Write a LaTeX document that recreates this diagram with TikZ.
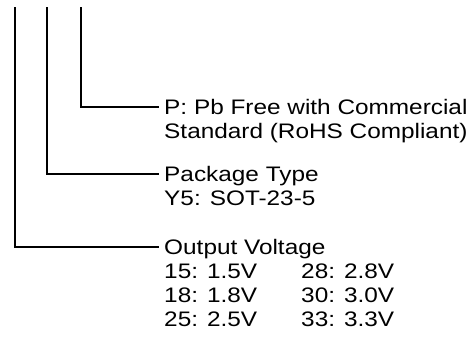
\documentclass[tikz,border=0pt]{standalone}
\usepackage{fontspec}
\setmainfont{Liberation Sans}
\usetikzlibrary{calc}
\tikzstyle{lead} = [line width=1.6pt, line cap=rect]
\tikzstyle{label} = [anchor=base west, inner sep=0pt, xscale=1.16,
  font=\fontsize{21}{24}\selectfont]

\begin{document}
\begin{tikzpicture}[x=1pt, y=-1pt]
  \useasboundingbox (0,0) rectangle (473,338);

  % tops of the three leads
  \coordinate (voltTop) at (15,8);
  \coordinate (pkgTop) at (47,8);
  \coordinate (rohsTop) at (81,8);

  \node [label] (rohs) at (164,114) {P: Pb Free with Commercial};
  \node [label] (rohsStd) at (164,138) {Standard (RoHS Compliant)};
  \node [label] (pkg) at (164,181) {Package Type};
  \node [label] (pkgSot) at (164,205) {Y5: SOT-23-5};
  \node [label] (volt) at (164,254) {Output Voltage};
  \foreach \a/\b [count=\i] in {15: 1.5V/28: 2.8V, 18: 1.8V/30: 3.0V, 25: 2.5V/33: 3.3V} {
    \node [label] (voltA\i) at (164,254+24*\i) {\a};
    \node [label] (voltB\i) at (301,254+24*\i) {\b};
  }

  \coordinate (rohsEnd) at ($(rohs.base west)+(-6,-7)$);
  \coordinate (pkgEnd) at ($(pkg.base west)+(-6,-7)$);
  \coordinate (voltEnd) at ($(volt.base west)+(-6,-7)$);

  \draw [lead] (rohsTop) |- (rohsEnd);
  \draw [lead] (pkgTop) |- (pkgEnd);
  \draw [lead] (voltTop) |- (voltEnd);
\end{tikzpicture}
\end{document}
